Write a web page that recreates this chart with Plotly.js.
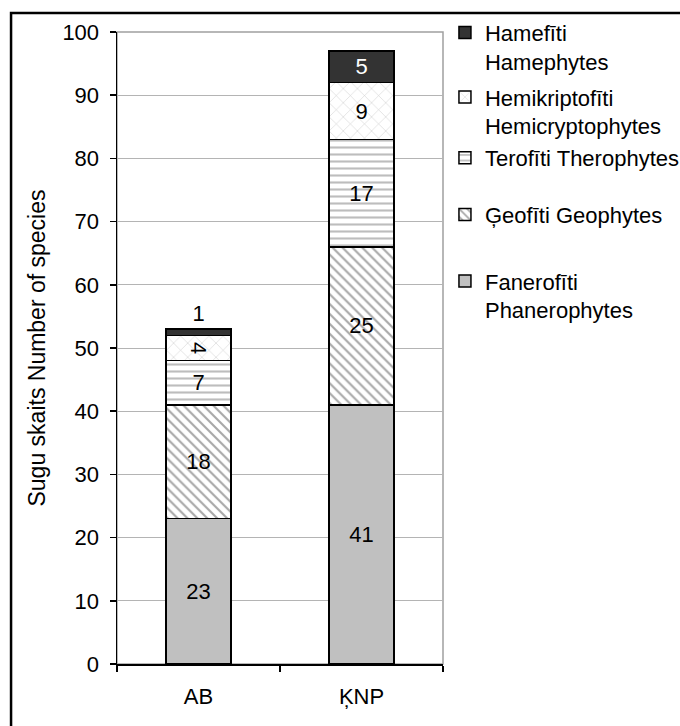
<!DOCTYPE html>
<html>
<head>
<meta charset="utf-8">
<script src="https://cdn.plot.ly/plotly-3.0.1.min.js"></script>
<style>
  html, body { margin: 0; padding: 0; background: #fff; }
  #chart { width: 680px; height: 726px; }
</style>
</head>
<body>
<div id="chart"></div>
<script>
// Sites and species counts by life form
const sites = ['AB', 'ĶNP'];
const phanerophytes = [23, 41];
const geophytes = [18, 25];
const therophytes = [7, 17];
const hemicryptophytes = [4, 9];
const chamaephytes = [1, 5];

const nameChamae = 'Hamefīti<br>Hamephytes';
const nameHemi = 'Hemikriptofīti<br>Hemicryptophytes';
const nameThero = 'Terofīti Therophytes';
const nameGeo = 'Ģeofīti Geophytes';
const namePhanero = 'Fanerofīti<br>Phanerophytes';

const FONT = 'Liberation Sans, Arial, sans-serif';
const FS = 22;

function barTrace(values, name, legendId, fill, pattern, textColor, textPos) {
  return {
    type: 'bar',
    x: sites,
    y: values,
    name: name,
    legend: legendId,
    text: values.map(String),
    textposition: textPos || 'inside',
    insidetextanchor: 'middle',
    constraintext: 'none',
    cliponaxis: false,
    textfont: { family: FONT, size: FS, color: textColor || '#000' },
    marker: {
      color: fill,
      line: { color: '#000', width: 1.5 },
      pattern: pattern
    },
    hoverinfo: 'skip'
  };
}

const traces = [
  barTrace(phanerophytes, namePhanero, 'legend5', '#c0c0c0', { shape: '' }),
  barTrace(geophytes, nameGeo, 'legend4', '#ffffff',
    { shape: '\\', fgcolor: '#a8a8a8', bgcolor: '#ffffff', size: 7, solidity: 0.3 }),
  barTrace(therophytes, nameThero, 'legend3', '#ffffff',
    { shape: '-', fgcolor: '#bdbdbd', bgcolor: '#ffffff', size: 7, solidity: 0.3 }),
  barTrace(hemicryptophytes, nameHemi, 'legend2', '#ffffff',
    { shape: 'x', fgcolor: '#cccccc', bgcolor: '#ffffff', size: 10, solidity: 0.1 }),
  barTrace(chamaephytes, nameChamae, 'legend', '#333333', { shape: '' },
    ['#000', '#fff'], ['outside', 'inside'])
];

// one legend block per life form, stacked down the right side
function legendAt(y) {
  return {
    x: 1.006, xanchor: 'left',
    y: y, yanchor: 'top',
    bgcolor: 'rgba(0,0,0,0)',
    borderwidth: 0,
    valign: 'top',
    itemwidth: 30,
    font: { family: FONT, size: FS, color: '#000' }
  };
}

const layout = {
  width: 680,
  height: 726,
  margin: { l: 117, r: 237, t: 32, b: 62, autoexpand: false },
  paper_bgcolor: '#fff',
  plot_bgcolor: '#fff',
  font: { family: FONT, size: FS, color: '#000' },
  barmode: 'stack',
  bargap: 0.6,
  showlegend: true,
  legend: legendAt(1.032),
  legend2: legendAt(0.930),
  legend3: legendAt(0.834),
  legend4: legendAt(0.744),
  legend5: legendAt(0.639),
  xaxis: {
    type: 'category',
    range: [-0.5, 1.5],
    showline: true, linecolor: '#000', linewidth: 1.5,
    ticks: 'outside', tickson: 'boundaries', ticklen: 6, tickcolor: '#000', tickwidth: 1.5,
    ticklabelstandoff: 12,
    showgrid: false, zeroline: false,
    tickfont: { family: FONT, size: FS, color: '#000' }
  },
  yaxis: {
    range: [0, 100],
    dtick: 10,
    showline: true, linecolor: '#000', linewidth: 1.5,
    ticks: 'outside', ticklen: 6, tickcolor: '#000', tickwidth: 1.5,
    ticklabelstandoff: 6,
    showgrid: true, gridcolor: '#b4b4b4', gridwidth: 1,
    zeroline: false,
    tickfont: { family: FONT, size: FS, color: '#000' },
    title: { text: 'Sugu skaits Number of species', standoff: 10,
             font: { family: FONT, size: 23, color: '#000' } }
  },
  shapes: [
    // gray plot-area frame
    { type: 'rect', xref: 'paper', yref: 'paper', x0: 0, x1: 1, y0: 0, y1: 1,
      line: { color: '#a0a0a0', width: 1.5 }, layer: 'below' },
    // outer chart frame
    { type: 'rect', xref: 'paper', yref: 'paper', x0: -0.325, x1: 1.8, y0: -0.15, y1: 1.030,
      line: { color: '#000', width: 2.5 }, layer: 'below' }
  ]
};

Plotly.newPlot('chart', traces, layout, { staticPlot: true, displayModeBar: false });
</script>
</body>
</html>
